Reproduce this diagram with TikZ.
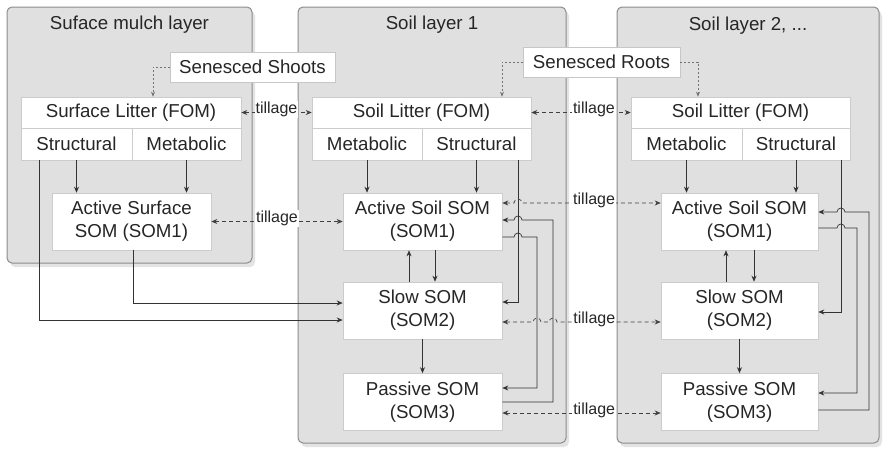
\documentclass[tikz,border=0pt]{standalone}
\usepackage{fontspec}
\setmainfont{Liberation Sans}
\usetikzlibrary{arrows.meta,shadows,calc}
\begin{document}
\begin{tikzpicture}[x=1pt,y=-1pt,
  panel/.style={draw=black!45, line width=1pt, fill=black!12, rounded corners=5pt,
    drop shadow={shadow xshift=3pt,shadow yshift=-4pt,opacity=0.22}},
  title/.style={font=\fontsize{18.7}{22}\selectfont, text=black!85},
  box/.style={draw=black!20, line width=0.6pt, fill=white, font=\fontsize{18.7}{23}\selectfont, text=black!85, align=center, inner sep=0pt},
  conn/.style={draw=black!80, line width=0.7pt, -{Stealth[length=6pt,width=5pt]}},
  till/.style={draw=black!75, line width=0.7pt, dash pattern=on 4pt off 3pt, {Stealth[length=6pt,width=5pt]}-{Stealth[length=6pt,width=5pt]}},
  tlabel/.style={font=\fontsize{16}{18}\selectfont, text=black!85, inner sep=1pt, fill=white},
  sen/.style={draw=black!55, line width=0.6pt, dash pattern=on 2pt off 2pt, -{Stealth[length=5pt,width=4pt]}},
  senbox/.style={draw=black!22, fill=white, font=\fontsize{18.7}{22}\selectfont, text=black!85, inner sep=0pt}
]
\fill[white] (0,0) rectangle (889,455);
\useasboundingbox (0,0) rectangle (889,455);

% panels
\draw[panel] (7,7) rectangle (252,263);
\draw[panel] (298,7) rectangle (566,443);
\draw[panel] (617,7) rectangle (879,443);

\node[title] (t1) at (129.5,25) {Suface mulch layer};
\node[title] (t2) at (432,25) {Soil layer 1};
\node[title] (t3) at (748,26) {Soil layer 2, ...};

% surface layer
\node[box,minimum width=220pt,minimum height=31pt] (slit) at (131,112.5) {Surface Litter (FOM)};
\node[box,minimum width=111pt,minimum height=32pt] (sstr) at (76.5,144) {Structural};
\node[box,minimum width=109pt,minimum height=32pt] (smet) at (186.5,144) {Metabolic};
\node[box,minimum width=159pt,minimum height=57pt] (ssom) at (131.5,221.5) {Active Surface\\SOM (SOM1)};

% soil layer 1
\node[box,minimum width=219pt,minimum height=31pt] (alit) at (421.5,112.5) {Soil Litter (FOM)};
\node[box,minimum width=110pt,minimum height=32pt] (amet) at (367,144) {Metabolic};
\node[box,minimum width=109pt,minimum height=32pt] (astr) at (476.5,144) {Structural};
\node[box,minimum width=159pt,minimum height=57pt] (aa) at (422.5,221.5) {Active Soil SOM\\(SOM1)};
\node[box,minimum width=159pt,minimum height=57pt] (as) at (422.5,310.5) {Slow SOM\\(SOM2)};
\node[box,minimum width=159pt,minimum height=57pt] (ap) at (422.5,402) {Passive SOM\\(SOM3)};

% soil layer 2
\node[box,minimum width=219pt,minimum height=31pt] (blit) at (740.5,112.5) {Soil Litter (FOM)};
\node[box,minimum width=111pt,minimum height=32pt] (bmet) at (686.5,144) {Metabolic};
\node[box,minimum width=108pt,minimum height=32pt] (bstr) at (796,144) {Structural};
\node[box,minimum width=157pt,minimum height=57pt] (bb) at (739.5,221.5) {Active Soil SOM\\(SOM1)};
\node[box,minimum width=157pt,minimum height=57pt] (bs) at (739.5,310.5) {Slow SOM\\(SOM2)};
\node[box,minimum width=157pt,minimum height=57pt] (bp) at (739.5,402) {Passive SOM\\(SOM3)};

% senesced inputs
\node[senbox,minimum width=165pt,minimum height=30pt] (shoots) at (252.5,67) {Senesced Shoots};
\node[senbox,minimum width=157pt,minimum height=30pt] (roots) at (601.5,62) {Senesced Roots};
\draw[sen] (shoots.west) -| ([xshift=22pt]slit.north);
\draw[sen] (roots.west) -| ([xshift=80.5pt]alit.north);
\draw[sen] (roots.east) -| ([xshift=-42.5pt]blit.north);

% surface flows
\draw[conn] (sstr.south) -- (sstr.south |- ssom.north);
\draw[conn] (smet.south) -- (smet.south |- ssom.north);
\draw[conn] ([xshift=-37.5pt]sstr.south) |- ([yshift=-9.5pt]as.west);
\draw[conn] ([xshift=1.5pt]ssom.south) |- ([yshift=7.5pt]as.west);

% layer 1 flows
\draw[conn] (amet.south) -- (amet.south |- aa.north);
\draw[conn] (astr.south) -- (astr.south |- aa.north);
\draw[conn] ([xshift=41.5pt]astr.south) |- ([yshift=8.5pt]as.east);
\draw[conn] ([xshift=-13.5pt]as.north) -- ([xshift=-13.5pt]aa.south);
\draw[conn] ([xshift=12.5pt]aa.south) -- ([xshift=12.5pt]as.north);
\draw[conn] (as.south) -- (ap.north);
\draw[conn] ([yshift=-15.5pt]aa.east) -- (514,237) arc[start angle=180,end angle=0,radius=4pt] -- (537,237) -- (537,388) -- ([yshift=14pt]ap.east);
\draw[conn] (ap.east) -- (553,402) -- (553,220) -- (522,220) arc[start angle=0,end angle=180,radius=4pt] -- ([yshift=1.5pt]aa.east);

% layer 2 flows
\draw[conn] (bmet.south) -- (bmet.south |- bb.north);
\draw[conn] (bstr.south) -- (bstr.south |- bb.north);
\draw[conn] ([xshift=45pt]bstr.south) |- ([yshift=-1.5pt]bs.east);
\draw[conn] ([xshift=-13.5pt]bs.north) -- ([xshift=-13.5pt]bb.south);
\draw[conn] ([xshift=14.5pt]bb.south) -- ([xshift=14.5pt]bs.north);
\draw[conn] (bs.south) -- (bp.north);
\draw[conn] ([yshift=-6.5pt]bb.east) -- (837,228) arc[start angle=180,end angle=0,radius=4pt] -- (857,228) -- (857,393) -- ([yshift=9pt]bp.east);
\draw[conn] ([yshift=-8pt]bp.east) -- (869,410) -- (869,212) -- (845,212) arc[start angle=0,end angle=180,radius=4pt] -- ([yshift=9.5pt]bb.east);

% tillage
\draw[till] (slit.east) -- node[tlabel,yshift=3pt]{tillage} (alit.west);
\draw[till] (ssom.east) -- node[tlabel,yshift=3pt]{tillage} (aa.west);
\draw[till] (alit.east) -- node[tlabel,pos=0.63,yshift=3pt]{tillage} (blit.west);
\draw[till] ([yshift=18.5pt]aa.east) -- (514,203) arc[start angle=180,end angle=0,radius=4pt] -- node[tlabel,pos=0.52,yshift=3pt]{tillage} ([yshift=18.5pt]bb.west);
\draw[till] ([yshift=-11.5pt]as.east) -- (533,322) arc[start angle=180,end angle=0,radius=4pt] -- (549,322) arc[start angle=180,end angle=0,radius=4pt] -- node[tlabel,pos=0.36,yshift=3pt]{tillage} ([yshift=-11.5pt]bs.west);
\draw[till] ([yshift=-11pt]ap.east) -- node[tlabel,pos=0.58,yshift=3pt]{tillage} ([yshift=-11pt]bp.west);
\end{tikzpicture}
\end{document}
